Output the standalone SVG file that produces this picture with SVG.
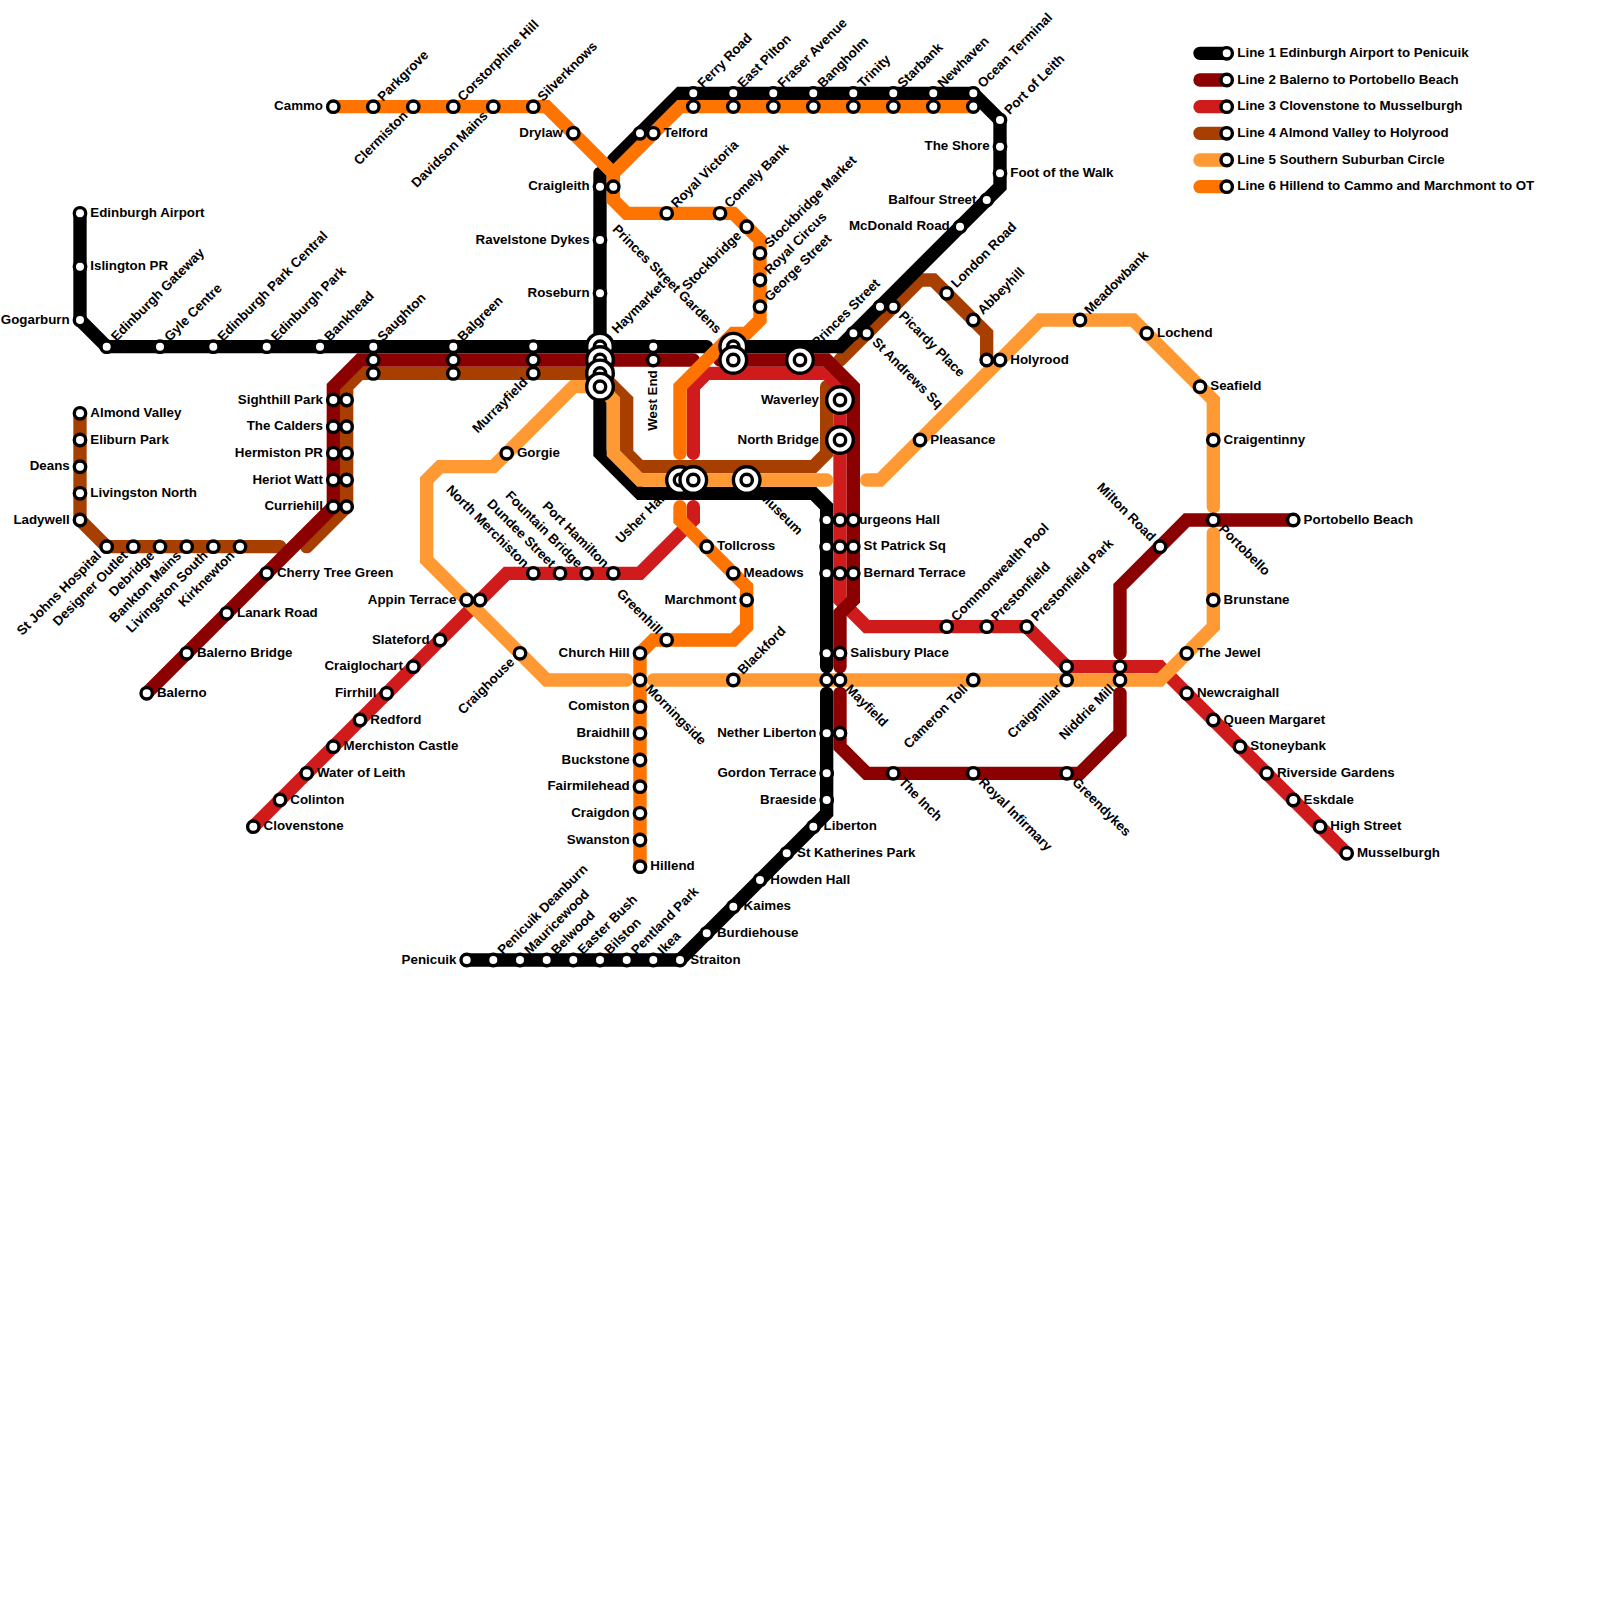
<svg xmlns="http://www.w3.org/2000/svg" width="1600" height="1600" viewBox="0 0 1600 1600">
<style>
text{font-family:"Liberation Sans",Arial,sans-serif;font-weight:bold;font-size:13.33px;fill:#000}
.e{text-anchor:end}
.ln{fill:none;stroke-width:1;stroke-linecap:round;stroke-linejoin:miter;stroke-miterlimit:10}
.lg{fill:none;stroke-width:13.33;stroke-linecap:round}
.l1{stroke:#000}.l2{stroke:#8b0000}.l3{stroke:#cf1b1b}.l4{stroke:#a63f00}.l5{stroke:#ff9933}.l6{stroke:#ff7300}
.s{fill:#fff;stroke:#000;stroke-width:3.4}
</style>
<defs>
<g id="ic"><circle r="13.3" fill="#fff" stroke="#000" stroke-width="3.4"/><circle r="5.7" fill="#fff" stroke="#000" stroke-width="3.4"/></g>
</defs>
<rect width="1600" height="1600" fill="#fff"/>
<g id="labels-under-lines">
<text transform="translate(680,480) rotate(-45)" class="e" x="-21" y="3.5">Usher Hall</text>
<text transform="translate(746.7,480) rotate(45)" x="21" y="3.5">Museum</text>
<text transform="translate(840,520)" x="10.3" y="3.5">Surgeons Hall</text>
</g>
<g id="connectors" transform="scale(13.3333)">
<g id="line4">
<path class="ln l4" d="M6 31V39L8 41H21"/>
<path class="ln l4" d="M23 41L26 38V29L27 28H45L47 30V34L48 35H61L62 34V29"/>
<path class="ln l4" d="M63 27L69 21H70L74 25V27"/>
</g>
<g id="line1">
<path class="ln l1" d="M6 16V24L8 26H53"/>
<path class="ln l1" d="M55 26H63L75 14V9L73 7H51L46 12"/>
<path class="ln l1" d="M45 13V34L48 37H61L62 38V50"/>
<path class="ln l1" d="M62 52V61L51 72H35"/>
</g>
<g id="line3">
<path class="ln l3" d="M19 62L38 43H48L52 39V38"/>
<path class="ln l3" d="M52 34V29L53 28H62L63 29V45L65 47H77L80 50H87L101 64"/>
</g>
<g id="line2">
<path class="ln l2" d="M11 52L25 38V29L27 27H52"/>
<path class="ln l2" d="M54 27H62L64 29V45L63 46V50"/>
<path class="ln l2" d="M63 52V56L65 58H81L84 55V52"/>
<path class="ln l2" d="M84 49V44L89 39H97"/>
</g>
<g id="line5">
<path class="ln l5" d="M47 51H41L32 42V36L33 35H37L43 29H45L46 30V34L48 36H62"/>
<path class="ln l5" d="M49 51H87L91 47V40"/>
<path class="ln l5" d="M91 38V30L85 24H78L66 36H65"/>
</g>
<g id="line6">
<path class="ln l6" d="M25 8H41L46 13V15L47 16H55L57 18V24L56 25H55L51 29V34"/>
<path class="ln l6" d="M46 13L51 8H73"/>
<path class="ln l6" d="M51 38V39L56 44V47L55 48H49L48 49V65"/>
</g>
</g>
<g id="nodes">
<g id="edinburgh-airport" transform="translate(80,213.3)"><circle class="s" r="5.7"/><text x="10.3" y="3.5">Edinburgh Airport</text></g>
<g id="islington-pr" transform="translate(80,266.7)"><circle class="s" r="5.7"/><text x="10.3" y="3.5">Islington PR</text></g>
<g id="gogarburn" transform="translate(80,320)"><circle class="s" r="5.7"/><text class="e" x="-10.3" y="3.5">Gogarburn</text></g>
<g id="edinburgh-gateway" transform="translate(106.7,346.7)"><circle class="s" r="5.7"/><text transform="rotate(-45)" x="10.3" y="3.5">Edinburgh Gateway</text></g>
<g id="gyle-centre" transform="translate(160,346.7)"><circle class="s" r="5.7"/><text transform="rotate(-45)" x="10.3" y="3.5">Gyle Centre</text></g>
<g id="edinburgh-park-central" transform="translate(213.3,346.7)"><circle class="s" r="5.7"/><text transform="rotate(-45)" x="10.3" y="3.5">Edinburgh Park Central</text></g>
<g id="edinburgh-park" transform="translate(266.7,346.7)"><circle class="s" r="5.7"/><text transform="rotate(-45)" x="10.3" y="3.5">Edinburgh Park</text></g>
<g id="bankhead" transform="translate(320,346.7)"><circle class="s" r="5.7"/><text transform="rotate(-45)" x="10.3" y="3.5">Bankhead</text></g>
<g id="saughton" transform="translate(373.3,346.7)"><circle class="s" r="5.7" cy="26.7"/><circle class="s" r="5.7" cy="13.3"/><circle class="s" r="5.7"/><text transform="rotate(-45)" x="10.3" y="3.5">Saughton</text></g>
<g id="balgreen" transform="translate(453.3,346.7)"><circle class="s" r="5.7" cy="26.7"/><circle class="s" r="5.7" cy="13.3"/><circle class="s" r="5.7"/><text transform="rotate(-45)" x="10.3" y="3.5">Balgreen</text></g>
<g id="murrayfield" transform="translate(533.3,373.3)"><circle class="s" r="5.7" cy="-26.7"/><circle class="s" r="5.7" cy="-13.3"/><circle class="s" r="5.7"/><text class="e" transform="rotate(-45)" x="-10.3" y="3.5">Murrayfield</text></g>
<g id="haymarket" transform="translate(600,346.7)"><use href="#ic"/><use href="#ic" y="13.3"/><use href="#ic" y="26.7"/><use href="#ic" y="40"/><text transform="rotate(-45)" x="21" y="3.5">Haymarket</text></g>
<g id="west-end" transform="translate(653.3,360)"><circle class="s" r="5.7" cy="-13.3"/><circle class="s" r="5.7"/><text class="e" transform="rotate(-90)" x="-10.3" y="3.5">West End</text></g>
<g id="princes-street-gardens" transform="translate(733.3,346.7)"><use href="#ic"/><use href="#ic" y="13.3"/><text class="e" transform="rotate(45)" x="-21" y="3.5">Princes Street Gardens</text></g>
<g id="princes-street" transform="translate(800,360)"><use href="#ic"/><text transform="rotate(-45)" x="21" y="3.5">Princes Street</text></g>
<g id="st-andrews-sq" transform="translate(866.7,333.3)"><circle class="s" r="5.7" cx="-13.3"/><circle class="s" r="5.7"/><text transform="rotate(45)" x="10.3" y="3.5">St Andrews Sq</text></g>
<g id="picardy-place" transform="translate(893.3,306.7)"><circle class="s" r="5.7" cx="-13.3"/><circle class="s" r="5.7"/><text transform="rotate(45)" x="10.3" y="3.5">Picardy Place</text></g>
<g id="mcdonald-road" transform="translate(960,226.7)"><circle class="s" r="5.7"/><text class="e" x="-10.3" y="3.5">McDonald Road</text></g>
<g id="balfour-street" transform="translate(986.7,200)"><circle class="s" r="5.7"/><text class="e" x="-10.3" y="3.5">Balfour Street</text></g>
<g id="foot-of-the-walk" transform="translate(1000,173.3)"><circle class="s" r="5.7"/><text x="10.3" y="3.5">Foot of the Walk</text></g>
<g id="the-shore" transform="translate(1000,146.7)"><circle class="s" r="5.7"/><text class="e" x="-10.3" y="3.5">The Shore</text></g>
<g id="port-of-leith" transform="translate(1000,120)"><circle class="s" r="5.7"/><text transform="rotate(-45)" x="10.3" y="3.5">Port of Leith</text></g>
<g id="ocean-terminal" transform="translate(973.3,93.3)"><circle class="s" r="5.7" cy="13.3"/><circle class="s" r="5.7"/><text transform="rotate(-45)" x="10.3" y="3.5">Ocean Terminal</text></g>
<g id="newhaven" transform="translate(933.3,93.3)"><circle class="s" r="5.7" cy="13.3"/><circle class="s" r="5.7"/><text transform="rotate(-45)" x="10.3" y="3.5">Newhaven</text></g>
<g id="starbank" transform="translate(893.3,93.3)"><circle class="s" r="5.7" cy="13.3"/><circle class="s" r="5.7"/><text transform="rotate(-45)" x="10.3" y="3.5">Starbank</text></g>
<g id="trinity" transform="translate(853.3,93.3)"><circle class="s" r="5.7" cy="13.3"/><circle class="s" r="5.7"/><text transform="rotate(-45)" x="10.3" y="3.5">Trinity</text></g>
<g id="bangholm" transform="translate(813.3,93.3)"><circle class="s" r="5.7" cy="13.3"/><circle class="s" r="5.7"/><text transform="rotate(-45)" x="10.3" y="3.5">Bangholm</text></g>
<g id="fraser-avenue" transform="translate(773.3,93.3)"><circle class="s" r="5.7" cy="13.3"/><circle class="s" r="5.7"/><text transform="rotate(-45)" x="10.3" y="3.5">Fraser Avenue</text></g>
<g id="east-pilton" transform="translate(733.3,93.3)"><circle class="s" r="5.7" cy="13.3"/><circle class="s" r="5.7"/><text transform="rotate(-45)" x="10.3" y="3.5">East Pilton</text></g>
<g id="ferry-road" transform="translate(693.3,93.3)"><circle class="s" r="5.7" cy="13.3"/><circle class="s" r="5.7"/><text transform="rotate(-45)" x="10.3" y="3.5">Ferry Road</text></g>
<g id="telford" transform="translate(653.3,133.3)"><circle class="s" r="5.7" cx="-13.3"/><circle class="s" r="5.7"/><text x="10.3" y="3.5">Telford</text></g>
<g id="craigleith" transform="translate(600,186.7)"><circle class="s" r="5.7" cx="13.3"/><circle class="s" r="5.7"/><text class="e" x="-10.3" y="3.5">Craigleith</text></g>
<g id="ravelstone-dykes" transform="translate(600,240)"><circle class="s" r="5.7"/><text class="e" x="-10.3" y="3.5">Ravelstone Dykes</text></g>
<g id="roseburn" transform="translate(600,293.3)"><circle class="s" r="5.7"/><text class="e" x="-10.3" y="3.5">Roseburn</text></g>
<g id="usher-hall" transform="translate(680,480)"><use href="#ic"/><use href="#ic" x="13.3"/></g>
<g id="museum" transform="translate(746.7,480)"><use href="#ic"/></g>
<g id="surgeons-hall" transform="translate(840,520)"><circle class="s" r="5.7" cx="-13.3"/><circle class="s" r="5.7" cx="13.3"/><circle class="s" r="5.7"/></g>
<g id="st-patrick-sq" transform="translate(853.3,546.7)"><circle class="s" r="5.7" cx="-26.7"/><circle class="s" r="5.7" cx="-13.3"/><circle class="s" r="5.7"/><text x="10.3" y="3.5">St Patrick Sq</text></g>
<g id="bernard-terrace" transform="translate(853.3,573.3)"><circle class="s" r="5.7" cx="-26.7"/><circle class="s" r="5.7" cx="-13.3"/><circle class="s" r="5.7"/><text x="10.3" y="3.5">Bernard Terrace</text></g>
<g id="salisbury-place" transform="translate(840,653.3)"><circle class="s" r="5.7" cx="-13.3"/><circle class="s" r="5.7"/><text x="10.3" y="3.5">Salisbury Place</text></g>
<g id="mayfield" transform="translate(840,680)"><circle class="s" r="5.7" cx="-13.3"/><circle class="s" r="5.7"/><text transform="rotate(45)" x="10.3" y="3.5">Mayfield</text></g>
<g id="nether-liberton" transform="translate(826.7,733.3)"><circle class="s" r="5.7" cx="13.3"/><circle class="s" r="5.7"/><text class="e" x="-10.3" y="3.5">Nether Liberton</text></g>
<g id="gordon-terrace" transform="translate(826.7,773.3)"><circle class="s" r="5.7"/><text class="e" x="-10.3" y="3.5">Gordon Terrace</text></g>
<g id="braeside" transform="translate(826.7,800)"><circle class="s" r="5.7"/><text class="e" x="-10.3" y="3.5">Braeside</text></g>
<g id="liberton" transform="translate(813.3,826.7)"><circle class="s" r="5.7"/><text x="10.3" y="3.5">Liberton</text></g>
<g id="st-katherines-park" transform="translate(786.7,853.3)"><circle class="s" r="5.7"/><text x="10.3" y="3.5">St Katherines Park</text></g>
<g id="howden-hall" transform="translate(760,880)"><circle class="s" r="5.7"/><text x="10.3" y="3.5">Howden Hall</text></g>
<g id="kaimes" transform="translate(733.3,906.7)"><circle class="s" r="5.7"/><text x="10.3" y="3.5">Kaimes</text></g>
<g id="burdiehouse" transform="translate(706.7,933.3)"><circle class="s" r="5.7"/><text x="10.3" y="3.5">Burdiehouse</text></g>
<g id="straiton" transform="translate(680,960)"><circle class="s" r="5.7"/><text x="10.3" y="3.5">Straiton</text></g>
<g id="ikea" transform="translate(653.3,960)"><circle class="s" r="5.7"/><text transform="rotate(-45)" x="10.3" y="3.5">Ikea</text></g>
<g id="pentland-park" transform="translate(626.7,960)"><circle class="s" r="5.7"/><text transform="rotate(-45)" x="10.3" y="3.5">Pentland Park</text></g>
<g id="bilston" transform="translate(600,960)"><circle class="s" r="5.7"/><text transform="rotate(-45)" x="10.3" y="3.5">Bilston</text></g>
<g id="easter-bush" transform="translate(573.3,960)"><circle class="s" r="5.7"/><text transform="rotate(-45)" x="10.3" y="3.5">Easter Bush</text></g>
<g id="belwood" transform="translate(546.7,960)"><circle class="s" r="5.7"/><text transform="rotate(-45)" x="10.3" y="3.5">Belwood</text></g>
<g id="mauricewood" transform="translate(520,960)"><circle class="s" r="5.7"/><text transform="rotate(-45)" x="10.3" y="3.5">Mauricewood</text></g>
<g id="penicuik-deanburn" transform="translate(493.3,960)"><circle class="s" r="5.7"/><text transform="rotate(-45)" x="10.3" y="3.5">Penicuik Deanburn</text></g>
<g id="penicuik" transform="translate(466.7,960)"><circle class="s" r="5.7"/><text class="e" x="-10.3" y="3.5">Penicuik</text></g>
<g id="balerno" transform="translate(146.7,693.3)"><circle class="s" r="5.7"/><text x="10.3" y="3.5">Balerno</text></g>
<g id="balerno-bridge" transform="translate(186.7,653.3)"><circle class="s" r="5.7"/><text x="10.3" y="3.5">Balerno Bridge</text></g>
<g id="lanark-road" transform="translate(226.7,613.3)"><circle class="s" r="5.7"/><text x="10.3" y="3.5">Lanark Road</text></g>
<g id="cherry-tree-green" transform="translate(266.7,573.3)"><circle class="s" r="5.7"/><text x="10.3" y="3.5">Cherry Tree Green</text></g>
<g id="curriehill" transform="translate(333.3,506.7)"><circle class="s" r="5.7" cx="13.3"/><circle class="s" r="5.7"/><text class="e" x="-10.3" y="3.5">Curriehill</text></g>
<g id="heriot-watt" transform="translate(333.3,480)"><circle class="s" r="5.7" cx="13.3"/><circle class="s" r="5.7"/><text class="e" x="-10.3" y="3.5">Heriot Watt</text></g>
<g id="hermiston-pr" transform="translate(333.3,453.3)"><circle class="s" r="5.7" cx="13.3"/><circle class="s" r="5.7"/><text class="e" x="-10.3" y="3.5">Hermiston PR</text></g>
<g id="the-calders" transform="translate(333.3,426.7)"><circle class="s" r="5.7" cx="13.3"/><circle class="s" r="5.7"/><text class="e" x="-10.3" y="3.5">The Calders</text></g>
<g id="sighthill-park" transform="translate(333.3,400)"><circle class="s" r="5.7" cx="13.3"/><circle class="s" r="5.7"/><text class="e" x="-10.3" y="3.5">Sighthill Park</text></g>
<g id="the-inch" transform="translate(893.3,773.3)"><circle class="s" r="5.7"/><text transform="rotate(45)" x="10.3" y="3.5">The Inch</text></g>
<g id="royal-infirmary" transform="translate(973.3,773.3)"><circle class="s" r="5.7"/><text transform="rotate(45)" x="10.3" y="3.5">Royal Infirmary</text></g>
<g id="greendykes" transform="translate(1066.7,773.3)"><circle class="s" r="5.7"/><text transform="rotate(45)" x="10.3" y="3.5">Greendykes</text></g>
<g id="niddrie-mill" transform="translate(1120,680)"><circle class="s" r="5.7" cy="-13.3"/><circle class="s" r="5.7"/><text class="e" transform="rotate(-45)" x="-10.3" y="3.5">Niddrie Mill</text></g>
<g id="craigmillar" transform="translate(1066.7,680)"><circle class="s" r="5.7" cy="-13.3"/><circle class="s" r="5.7"/><text class="e" transform="rotate(-45)" x="-10.3" y="3.5">Craigmillar</text></g>
<g id="milton-road" transform="translate(1160,546.7)"><circle class="s" r="5.7"/><text class="e" transform="rotate(45)" x="-10.3" y="3.5">Milton Road</text></g>
<g id="portobello" transform="translate(1213.3,520)"><circle class="s" r="5.7"/><text transform="rotate(45)" x="10.3" y="3.5">Portobello</text></g>
<g id="portobello-beach" transform="translate(1293.3,520)"><circle class="s" r="5.7"/><text x="10.3" y="3.5">Portobello Beach</text></g>
<g id="clovenstone" transform="translate(253.3,826.7)"><circle class="s" r="5.7"/><text x="10.3" y="3.5">Clovenstone</text></g>
<g id="colinton" transform="translate(280,800)"><circle class="s" r="5.7"/><text x="10.3" y="3.5">Colinton</text></g>
<g id="water-of-leith" transform="translate(306.7,773.3)"><circle class="s" r="5.7"/><text x="10.3" y="3.5">Water of Leith</text></g>
<g id="merchiston-castle" transform="translate(333.3,746.7)"><circle class="s" r="5.7"/><text x="10.3" y="3.5">Merchiston Castle</text></g>
<g id="redford" transform="translate(360,720)"><circle class="s" r="5.7"/><text x="10.3" y="3.5">Redford</text></g>
<g id="firrhill" transform="translate(386.7,693.3)"><circle class="s" r="5.7"/><text class="e" x="-10.3" y="3.5">Firrhill</text></g>
<g id="craiglochart" transform="translate(413.3,666.7)"><circle class="s" r="5.7"/><text class="e" x="-10.3" y="3.5">Craiglochart</text></g>
<g id="slateford" transform="translate(440,640)"><circle class="s" r="5.7"/><text class="e" x="-10.3" y="3.5">Slateford</text></g>
<g id="appin-terrace" transform="translate(466.7,600)"><circle class="s" r="5.7" cx="13.3"/><circle class="s" r="5.7"/><text class="e" x="-10.3" y="3.5">Appin Terrace</text></g>
<g id="north-merchiston" transform="translate(533.3,573.3)"><circle class="s" r="5.7"/><text class="e" transform="rotate(45)" x="-10.3" y="3.5">North Merchiston</text></g>
<g id="dundee-street" transform="translate(560,573.3)"><circle class="s" r="5.7"/><text class="e" transform="rotate(45)" x="-10.3" y="3.5">Dundee Street</text></g>
<g id="fountain-bridge" transform="translate(586.7,573.3)"><circle class="s" r="5.7"/><text class="e" transform="rotate(45)" x="-10.3" y="3.5">Fountain Bridge</text></g>
<g id="port-hamilton" transform="translate(613.3,573.3)"><circle class="s" r="5.7"/><text class="e" transform="rotate(45)" x="-10.3" y="3.5">Port Hamilton</text></g>
<g id="commonwealth-pool" transform="translate(946.7,626.7)"><circle class="s" r="5.7"/><text transform="rotate(-45)" x="10.3" y="3.5">Commonwealth Pool</text></g>
<g id="prestonfield" transform="translate(986.7,626.7)"><circle class="s" r="5.7"/><text transform="rotate(-45)" x="10.3" y="3.5">Prestonfield</text></g>
<g id="prestonfield-park" transform="translate(1026.7,626.7)"><circle class="s" r="5.7"/><text transform="rotate(-45)" x="10.3" y="3.5">Prestonfield Park</text></g>
<g id="newcraighall" transform="translate(1186.7,693.3)"><circle class="s" r="5.7"/><text x="10.3" y="3.5">Newcraighall</text></g>
<g id="queen-margaret" transform="translate(1213.3,720)"><circle class="s" r="5.7"/><text x="10.3" y="3.5">Queen Margaret</text></g>
<g id="stoneybank" transform="translate(1240,746.7)"><circle class="s" r="5.7"/><text x="10.3" y="3.5">Stoneybank</text></g>
<g id="riverside-gardens" transform="translate(1266.7,773.3)"><circle class="s" r="5.7"/><text x="10.3" y="3.5">Riverside Gardens</text></g>
<g id="eskdale" transform="translate(1293.3,800)"><circle class="s" r="5.7"/><text x="10.3" y="3.5">Eskdale</text></g>
<g id="high-street" transform="translate(1320,826.7)"><circle class="s" r="5.7"/><text x="10.3" y="3.5">High Street</text></g>
<g id="musselburgh" transform="translate(1346.7,853.3)"><circle class="s" r="5.7"/><text x="10.3" y="3.5">Musselburgh</text></g>
<g id="waverley" transform="translate(840,400)"><use href="#ic"/><text class="e" x="-21" y="3.5">Waverley</text></g>
<g id="north-bridge" transform="translate(840,440)"><use href="#ic"/><text class="e" x="-21" y="3.5">North Bridge</text></g>
<g id="almond-valley" transform="translate(80,413.3)"><circle class="s" r="5.7"/><text x="10.3" y="3.5">Almond Valley</text></g>
<g id="eliburn-park" transform="translate(80,440)"><circle class="s" r="5.7"/><text x="10.3" y="3.5">Eliburn Park</text></g>
<g id="deans" transform="translate(80,466.7)"><circle class="s" r="5.7"/><text class="e" x="-10.3" y="3.5">Deans</text></g>
<g id="livingston-north" transform="translate(80,493.3)"><circle class="s" r="5.7"/><text x="10.3" y="3.5">Livingston North</text></g>
<g id="ladywell" transform="translate(80,520)"><circle class="s" r="5.7"/><text class="e" x="-10.3" y="3.5">Ladywell</text></g>
<g id="st-johns-hospital" transform="translate(106.7,546.7)"><circle class="s" r="5.7"/><text class="e" transform="rotate(-45)" x="-10.3" y="3.5">St Johns Hospital</text></g>
<g id="designer-outlet" transform="translate(133.3,546.7)"><circle class="s" r="5.7"/><text class="e" transform="rotate(-45)" x="-10.3" y="3.5">Designer Outlet</text></g>
<g id="debridge" transform="translate(160,546.7)"><circle class="s" r="5.7"/><text class="e" transform="rotate(-45)" x="-10.3" y="3.5">Debridge</text></g>
<g id="bankton-mains" transform="translate(186.7,546.7)"><circle class="s" r="5.7"/><text class="e" transform="rotate(-45)" x="-10.3" y="3.5">Bankton Mains</text></g>
<g id="livingston-south" transform="translate(213.3,546.7)"><circle class="s" r="5.7"/><text class="e" transform="rotate(-45)" x="-10.3" y="3.5">Livingston South</text></g>
<g id="kirknewton" transform="translate(240,546.7)"><circle class="s" r="5.7"/><text class="e" transform="rotate(-45)" x="-10.3" y="3.5">Kirknewton</text></g>
<g id="london-road" transform="translate(946.7,293.3)"><circle class="s" r="5.7"/><text transform="rotate(-45)" x="10.3" y="3.5">London Road</text></g>
<g id="abbeyhill" transform="translate(973.3,320)"><circle class="s" r="5.7"/><text transform="rotate(-45)" x="10.3" y="3.5">Abbeyhill</text></g>
<g id="holyrood" transform="translate(1000,360)"><circle class="s" r="5.7" cx="-13.3"/><circle class="s" r="5.7"/><text x="10.3" y="3.5">Holyrood</text></g>
<g id="gorgie" transform="translate(506.7,453.3)"><circle class="s" r="5.7"/><text x="10.3" y="3.5">Gorgie</text></g>
<g id="craighouse" transform="translate(520,653.3)"><circle class="s" r="5.7"/><text class="e" transform="rotate(-45)" x="-10.3" y="3.5">Craighouse</text></g>
<g id="morningside" transform="translate(640,680)"><circle class="s" r="5.7"/><text transform="rotate(45)" x="10.3" y="3.5">Morningside</text></g>
<g id="blackford" transform="translate(733.3,680)"><circle class="s" r="5.7"/><text transform="rotate(-45)" x="10.3" y="3.5">Blackford</text></g>
<g id="cameron-toll" transform="translate(973.3,680)"><circle class="s" r="5.7"/><text class="e" transform="rotate(-45)" x="-10.3" y="3.5">Cameron Toll</text></g>
<g id="the-jewel" transform="translate(1186.7,653.3)"><circle class="s" r="5.7"/><text x="10.3" y="3.5">The Jewel</text></g>
<g id="brunstane" transform="translate(1213.3,600)"><circle class="s" r="5.7"/><text x="10.3" y="3.5">Brunstane</text></g>
<g id="craigentinny" transform="translate(1213.3,440)"><circle class="s" r="5.7"/><text x="10.3" y="3.5">Craigentinny</text></g>
<g id="seafield" transform="translate(1200,386.7)"><circle class="s" r="5.7"/><text x="10.3" y="3.5">Seafield</text></g>
<g id="lochend" transform="translate(1146.7,333.3)"><circle class="s" r="5.7"/><text x="10.3" y="3.5">Lochend</text></g>
<g id="meadowbank" transform="translate(1080,320)"><circle class="s" r="5.7"/><text transform="rotate(-45)" x="10.3" y="3.5">Meadowbank</text></g>
<g id="pleasance" transform="translate(920,440)"><circle class="s" r="5.7"/><text x="10.3" y="3.5">Pleasance</text></g>
<g id="cammo" transform="translate(333.3,106.7)"><circle class="s" r="5.7"/><text class="e" x="-10.3" y="3.5">Cammo</text></g>
<g id="parkgrove" transform="translate(373.3,106.7)"><circle class="s" r="5.7"/><text transform="rotate(-45)" x="10.3" y="3.5">Parkgrove</text></g>
<g id="clermiston" transform="translate(413.3,106.7)"><circle class="s" r="5.7"/><text class="e" transform="rotate(-45)" x="-10.3" y="3.5">Clermiston</text></g>
<g id="corstorphine-hill" transform="translate(453.3,106.7)"><circle class="s" r="5.7"/><text transform="rotate(-45)" x="10.3" y="3.5">Corstorphine Hill</text></g>
<g id="davidson-mains" transform="translate(493.3,106.7)"><circle class="s" r="5.7"/><text class="e" transform="rotate(-45)" x="-10.3" y="3.5">Davidson Mains</text></g>
<g id="silverknows" transform="translate(533.3,106.7)"><circle class="s" r="5.7"/><text transform="rotate(-45)" x="10.3" y="3.5">Silverknows</text></g>
<g id="drylaw" transform="translate(573.3,133.3)"><circle class="s" r="5.7"/><text class="e" x="-10.3" y="3.5">Drylaw</text></g>
<g id="royal-victoria" transform="translate(666.7,213.3)"><circle class="s" r="5.7"/><text transform="rotate(-45)" x="10.3" y="3.5">Royal Victoria</text></g>
<g id="comely-bank" transform="translate(720,213.3)"><circle class="s" r="5.7"/><text transform="rotate(-45)" x="10.3" y="3.5">Comely Bank</text></g>
<g id="stockbridge" transform="translate(746.7,226.7)"><circle class="s" r="5.7"/><text class="e" transform="rotate(-45)" x="-10.3" y="3.5">Stockbridge</text></g>
<g id="stockbridge-market" transform="translate(760,253.3)"><circle class="s" r="5.7"/><text transform="rotate(-45)" x="10.3" y="3.5">Stockbridge Market</text></g>
<g id="royal-circus" transform="translate(760,280)"><circle class="s" r="5.7"/><text transform="rotate(-45)" x="10.3" y="3.5">Royal Circus</text></g>
<g id="george-street" transform="translate(760,306.7)"><circle class="s" r="5.7"/><text transform="rotate(-45)" x="10.3" y="3.5">George Street</text></g>
<g id="tollcross" transform="translate(706.7,546.7)"><circle class="s" r="5.7"/><text x="10.3" y="3.5">Tollcross</text></g>
<g id="meadows" transform="translate(733.3,573.3)"><circle class="s" r="5.7"/><text x="10.3" y="3.5">Meadows</text></g>
<g id="marchmont" transform="translate(746.7,600)"><circle class="s" r="5.7"/><text class="e" x="-10.3" y="3.5">Marchmont</text></g>
<g id="greenhill" transform="translate(666.7,640)"><circle class="s" r="5.7"/><text class="e" transform="rotate(45)" x="-10.3" y="3.5">Greenhill</text></g>
<g id="church-hill" transform="translate(640,653.3)"><circle class="s" r="5.7"/><text class="e" x="-10.3" y="3.5">Church Hill</text></g>
<g id="comiston" transform="translate(640,706.7)"><circle class="s" r="5.7"/><text class="e" x="-10.3" y="3.5">Comiston</text></g>
<g id="braidhill" transform="translate(640,733.3)"><circle class="s" r="5.7"/><text class="e" x="-10.3" y="3.5">Braidhill</text></g>
<g id="buckstone" transform="translate(640,760)"><circle class="s" r="5.7"/><text class="e" x="-10.3" y="3.5">Buckstone</text></g>
<g id="fairmilehead" transform="translate(640,786.7)"><circle class="s" r="5.7"/><text class="e" x="-10.3" y="3.5">Fairmilehead</text></g>
<g id="craigdon" transform="translate(640,813.3)"><circle class="s" r="5.7"/><text class="e" x="-10.3" y="3.5">Craigdon</text></g>
<g id="swanston" transform="translate(640,840)"><circle class="s" r="5.7"/><text class="e" x="-10.3" y="3.5">Swanston</text></g>
<g id="hillend" transform="translate(640,866.7)"><circle class="s" r="5.7"/><text x="10.3" y="3.5">Hillend</text></g>
</g>
<g id="legend">
<g id="legend-1"><path class="lg l1" d="M1200 53.3H1226.7"/><circle class="s" r="5.7" cx="1226.7" cy="53.3"/><text x="1237.3" y="56.8">Line 1 Edinburgh Airport to Penicuik</text></g>
<g id="legend-2"><path class="lg l2" d="M1200 80H1226.7"/><circle class="s" r="5.7" cx="1226.7" cy="80"/><text x="1237.3" y="83.5">Line 2 Balerno to Portobello Beach</text></g>
<g id="legend-3"><path class="lg l3" d="M1200 106.7H1226.7"/><circle class="s" r="5.7" cx="1226.7" cy="106.7"/><text x="1237.3" y="110.2">Line 3 Clovenstone to Musselburgh</text></g>
<g id="legend-4"><path class="lg l4" d="M1200 133.3H1226.7"/><circle class="s" r="5.7" cx="1226.7" cy="133.3"/><text x="1237.3" y="136.8">Line 4 Almond Valley to Holyrood</text></g>
<g id="legend-5"><path class="lg l5" d="M1200 160H1226.7"/><circle class="s" r="5.7" cx="1226.7" cy="160"/><text x="1237.3" y="163.5">Line 5 Southern Suburban Circle</text></g>
<g id="legend-6"><path class="lg l6" d="M1200 186.7H1226.7"/><circle class="s" r="5.7" cx="1226.7" cy="186.7"/><text x="1237.3" y="190.2">Line 6 Hillend to Cammo and Marchmont to OT</text></g>
</g>
</svg>
